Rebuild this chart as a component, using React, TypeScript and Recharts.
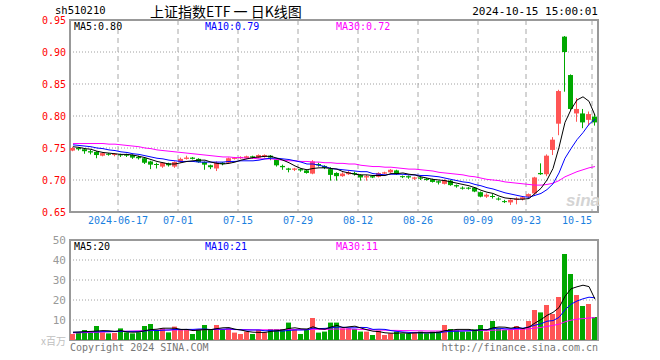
import React from "react";
import {
  Bar,
  CartesianGrid,
  ComposedChart,
  Line,
  ReferenceArea,
  XAxis,
  YAxis,
} from "recharts";

// trading days, 2024-06-04 .. 2024-10-15
const dates = (
  "06-04 06-05 06-06 06-07 06-11 06-12 06-13 06-14 06-17 06-18 06-19 06-20 06-21 06-24 06-25 06-26 06-27 06-28 " +
  "07-01 07-02 07-03 07-04 07-05 07-08 07-09 07-10 07-11 07-12 07-15 07-16 07-17 07-18 07-19 07-22 07-23 07-24 07-25 07-26 07-29 07-30 07-31 " +
  "08-01 08-02 08-05 08-06 08-07 08-08 08-09 08-12 08-13 08-14 08-15 08-16 08-19 08-20 08-21 08-22 08-23 08-26 08-27 08-28 08-29 08-30 " +
  "09-02 09-03 09-04 09-05 09-06 09-09 09-10 09-11 09-12 09-13 09-18 09-19 09-20 09-23 09-24 09-25 09-26 09-27 09-30 " +
  "10-08 10-09 10-10 10-11 10-14 10-15"
).split(" ");

const tickDates = ["06-17", "07-01", "07-15", "07-29", "08-12", "08-26", "09-09", "09-23", "10-15"];

const opens = [
  0.746, 0.75, 0.748, 0.745, 0.744, 0.738, 0.741, 0.739, 0.74, 0.74,
  0.739, 0.736, 0.734, 0.729, 0.725, 0.721, 0.726, 0.721, 0.728, 0.733,
  0.735, 0.733, 0.728, 0.723, 0.718, 0.727, 0.727, 0.733, 0.734, 0.734,
  0.737, 0.735, 0.736, 0.738, 0.732, 0.722, 0.718, 0.716, 0.717, 0.715,
  0.71, 0.725, 0.722, 0.717, 0.711, 0.706, 0.709, 0.711, 0.708, 0.704,
  0.706, 0.705, 0.71, 0.712, 0.715, 0.706, 0.706, 0.702, 0.704, 0.702,
  0.701, 0.698, 0.694, 0.699, 0.692, 0.688, 0.688, 0.688, 0.681, 0.674,
  0.675, 0.671, 0.667, 0.665, 0.669, 0.67, 0.674, 0.679, 0.711, 0.709,
  0.747, 0.788, 0.924, 0.864, 0.804, 0.804, 0.794, 0.799,
];
const highs = [
  0.752, 0.751, 0.749, 0.747, 0.745, 0.743, 0.742, 0.742, 0.741, 0.741,
  0.74, 0.738, 0.735, 0.73, 0.727, 0.728, 0.727, 0.729, 0.735, 0.738,
  0.736, 0.734, 0.729, 0.724, 0.729, 0.728, 0.735, 0.736, 0.737, 0.738,
  0.738, 0.74, 0.74, 0.739, 0.733, 0.724, 0.719, 0.719, 0.718, 0.716,
  0.731, 0.727, 0.723, 0.72, 0.712, 0.712, 0.714, 0.713, 0.709, 0.708,
  0.707, 0.712, 0.713, 0.717, 0.716, 0.707, 0.707, 0.705, 0.705, 0.703,
  0.702, 0.699, 0.701, 0.7, 0.693, 0.69, 0.689, 0.689, 0.682, 0.679,
  0.678, 0.673, 0.669, 0.67, 0.673, 0.674, 0.679, 0.705, 0.726, 0.74,
  0.767, 0.841, 0.925, 0.865, 0.828, 0.811, 0.807, 0.803,
];
const lows = [
  0.745, 0.746, 0.741, 0.74, 0.734, 0.737, 0.738, 0.737, 0.736, 0.736,
  0.733, 0.732, 0.725, 0.717, 0.718, 0.719, 0.721, 0.719, 0.727, 0.732,
  0.732, 0.727, 0.716, 0.717, 0.714, 0.723, 0.726, 0.732, 0.733, 0.733,
  0.733, 0.734, 0.735, 0.731, 0.721, 0.716, 0.712, 0.714, 0.713, 0.71,
  0.709, 0.721, 0.717, 0.699, 0.699, 0.705, 0.708, 0.707, 0.699, 0.699,
  0.703, 0.704, 0.709, 0.711, 0.708, 0.703, 0.702, 0.7, 0.7, 0.699,
  0.696, 0.693, 0.693, 0.691, 0.688, 0.685, 0.685, 0.681, 0.673, 0.672,
  0.671, 0.668, 0.664, 0.661, 0.662, 0.668, 0.672, 0.677, 0.708, 0.706,
  0.739, 0.77, 0.838, 0.809, 0.791, 0.781, 0.785, 0.785,
];
const closes = [
  0.75, 0.748, 0.745, 0.743, 0.739, 0.742, 0.74, 0.741, 0.739, 0.738,
  0.735, 0.734, 0.727, 0.724, 0.724, 0.727, 0.723, 0.728, 0.733, 0.735,
  0.733, 0.728, 0.724, 0.72, 0.727, 0.725, 0.734, 0.735, 0.736, 0.737,
  0.735, 0.739, 0.739, 0.735, 0.723, 0.72, 0.716, 0.718, 0.715, 0.711,
  0.729, 0.723, 0.719, 0.708, 0.706, 0.71, 0.712, 0.709, 0.704, 0.706,
  0.704, 0.711, 0.712, 0.716, 0.709, 0.705, 0.704, 0.704, 0.702, 0.7,
  0.697, 0.696, 0.7, 0.692, 0.69, 0.687, 0.687, 0.682, 0.674, 0.677,
  0.674, 0.67, 0.666, 0.669, 0.671, 0.673, 0.678, 0.704, 0.709, 0.738,
  0.763, 0.839, 0.9, 0.811, 0.811, 0.79, 0.803, 0.79,
];
const ma5 = [
  0.752, 0.751, 0.749, 0.748, 0.745, 0.743, 0.742, 0.741, 0.74, 0.74,
  0.739, 0.737, 0.735, 0.732, 0.729, 0.727, 0.725, 0.725, 0.727, 0.729,
  0.73, 0.731, 0.731, 0.728, 0.726, 0.725, 0.726, 0.728, 0.731, 0.733,
  0.735, 0.736, 0.737, 0.737, 0.734, 0.731, 0.727, 0.722, 0.718, 0.716,
  0.718, 0.719, 0.719, 0.718, 0.717, 0.713, 0.711, 0.709, 0.708, 0.708,
  0.707, 0.707, 0.707, 0.71, 0.71, 0.711, 0.709, 0.708, 0.705, 0.703,
  0.701, 0.7, 0.699, 0.697, 0.695, 0.693, 0.691, 0.688, 0.684, 0.681,
  0.679, 0.675, 0.672, 0.671, 0.67, 0.67, 0.671, 0.679, 0.687, 0.7,
  0.718, 0.751, 0.79, 0.81, 0.825, 0.83, 0.823, 0.801,
];
const ma10 = [
  0.755, 0.754, 0.753, 0.752, 0.75, 0.749, 0.747, 0.746, 0.744, 0.743,
  0.741, 0.74, 0.738, 0.736, 0.734, 0.733, 0.731, 0.73, 0.729, 0.729,
  0.729, 0.728, 0.728, 0.728, 0.728, 0.728, 0.729, 0.729, 0.73, 0.73,
  0.73, 0.731, 0.733, 0.734, 0.734, 0.733, 0.732, 0.73, 0.728, 0.725,
  0.725, 0.723, 0.721, 0.718, 0.717, 0.716, 0.715, 0.714, 0.713, 0.713,
  0.71, 0.709, 0.708, 0.709, 0.709, 0.709, 0.708, 0.708, 0.707, 0.707,
  0.706, 0.705, 0.703, 0.701, 0.699, 0.697, 0.696, 0.693, 0.691, 0.688,
  0.686, 0.683, 0.68, 0.678, 0.676, 0.674, 0.673, 0.676, 0.679, 0.685,
  0.694, 0.711, 0.734, 0.749, 0.763, 0.774, 0.787, 0.795,
];
const ma30 = [
  0.757, 0.757, 0.757, 0.757, 0.757, 0.757, 0.756, 0.756, 0.755, 0.754,
  0.753, 0.752, 0.75, 0.749, 0.747, 0.746, 0.745, 0.744, 0.743, 0.742,
  0.741, 0.74, 0.739, 0.738, 0.737, 0.736, 0.736, 0.735, 0.735, 0.734,
  0.734, 0.733, 0.733, 0.733, 0.732, 0.731, 0.73, 0.73, 0.729, 0.729,
  0.728, 0.728, 0.727, 0.727, 0.726, 0.726, 0.725, 0.725, 0.723, 0.722,
  0.721, 0.721, 0.72, 0.72, 0.719, 0.718, 0.717, 0.717, 0.716, 0.715,
  0.714, 0.712, 0.711, 0.71, 0.709, 0.708, 0.706, 0.705, 0.703, 0.701,
  0.7, 0.699, 0.697, 0.696, 0.695, 0.694, 0.693, 0.692, 0.692, 0.693,
  0.695, 0.699, 0.705, 0.709, 0.713, 0.716, 0.719, 0.721,
];

// volume, millions
const volumes = [
  3.0, 3.8, 5, 3.8, 7, 3.8, 3.3, 3.5, 5.8, 3.8,
  3.3, 3.8, 7, 8, 5, 5.8, 3.8, 6.7, 5, 5,
  3, 5.3, 7.5, 5, 7.5, 5, 5.8, 3.7, 3, 4.2,
  3, 5, 3.8, 5.5, 5.5, 5.5, 8.7, 5.5, 3, 5,
  11, 3.7, 4.2, 8.7, 8.7, 5.8, 5.8, 5.5, 4.2, 4.2,
  2.5, 4.7, 2.5, 3.3, 4.2, 3.3, 3.3, 3.7, 4.2, 3.3,
  4.2, 4.2, 7.5, 5.5, 5, 4.2, 4.2, 5.3, 7.5, 4.2,
  9.5, 5.8, 5, 5, 7, 5.8, 9.5, 15, 13.8, 17.5,
  13, 21.5, 43, 33, 22.5, 17, 18, 11.5,
];
const volMa5 = [
  3.9, 4.0, 4.2, 4.3, 4.5, 4.7, 4.6, 4.3, 4.7, 4.0,
  3.9, 4.0, 4.7, 5.2, 5.4, 5.9, 5.9, 5.9, 5.3, 5.3,
  4.7, 5.0, 5.2, 5.2, 5.7, 6.1, 6.2, 5.4, 5.0, 4.3,
  3.9, 3.8, 3.8, 4.3, 4.6, 5.1, 5.8, 6.1, 5.6, 5.5,
  6.6, 5.6, 5.4, 6.5, 7.3, 6.2, 6.6, 6.9, 6.0, 5.1,
  4.4, 4.2, 3.6, 3.4, 3.4, 3.6, 3.3, 3.6, 3.7, 3.6,
  3.7, 3.9, 4.7, 4.9, 5.3, 5.3, 5.3, 4.8, 5.2, 5.1,
  6.1, 6.5, 6.4, 5.9, 6.5, 5.7, 6.5, 8.5, 10.2, 12.3,
  13.8, 16.2, 21.8, 25.6, 26.6, 27.4, 26.7, 20.4,
];
const volMa10 = [
  3.8, 3.9, 4.0, 4.1, 4.1, 4.2, 4.2, 4.3, 4.3, 4.3,
  4.3, 4.3, 4.5, 4.9, 4.7, 4.9, 5.0, 5.3, 5.2, 5.3,
  5.3, 5.5, 5.5, 5.2, 5.5, 5.4, 5.6, 5.3, 5.1, 5.0,
  5.0, 5.0, 4.6, 4.7, 4.5, 4.5, 4.8, 5.0, 5.0, 5.1,
  5.9, 5.7, 5.8, 6.1, 6.4, 6.4, 6.1, 6.1, 6.3, 6.2,
  5.3, 5.4, 5.3, 4.7, 4.3, 4.0, 3.8, 3.6, 3.6, 3.5,
  3.7, 3.6, 4.1, 4.3, 4.4, 4.5, 4.6, 4.8, 5.1, 5.2,
  5.7, 5.9, 5.6, 5.6, 5.8, 5.9, 6.5, 7.4, 8.1, 9.4,
  9.7, 11.3, 15.1, 17.9, 19.5, 20.6, 21.4, 21.1,
];
const volMa30 = [
  3.5, 3.6, 3.7, 3.8, 3.9, 4.0, 4.1, 4.2, 4.3, 4.4,
  4.5, 4.6, 4.7, 4.8, 4.9, 5.0, 5.0, 5.0, 5.1, 5.1,
  5.1, 5.1, 5.2, 5.2, 5.3, 5.3, 5.3, 5.2, 5.2, 5.2,
  5.1, 5.1, 5.1, 5.1, 5.1, 5.1, 5.2, 5.2, 5.2, 5.2,
  5.3, 5.3, 5.3, 5.4, 5.5, 5.5, 5.5, 5.4, 5.3, 5.2,
  5.1, 5.0, 4.9, 4.8, 4.8, 4.7, 4.7, 4.6, 4.6, 4.5,
  4.5, 4.5, 4.6, 4.6, 4.6, 4.6, 4.7, 4.7, 4.8, 4.8,
  4.9, 5.0, 5.1, 5.2, 5.3, 5.4, 5.6, 5.9, 6.3, 6.8,
  7.3, 7.9, 9.1, 9.9, 10.4, 10.7, 11.0, 11.2,
];

const priceTicks = [0.65, 0.7, 0.75, 0.8, 0.85, 0.9, 0.95];
const volTicks = [10, 20, 30, 40, 50];

const RED = "#ff5555";
const GREEN = "#00a800";
const MONO = '"DejaVu Sans Mono", monospace';

// each day takes one unit on the x axis; marks sit in the middle of it
const rows = dates.map((date, i) => ({
  x: i + 0.5,
  date,
  o: opens[i],
  h: highs[i],
  l: lows[i],
  c: closes[i],
  v: volumes[i],
  ma5: ma5[i],
  ma10: ma10[i],
  ma30: ma30[i],
  vma5: volMa5[i],
  vma10: volMa10[i],
  vma30: volMa30[i],
}));

const tickIdx = tickDates.map((d) => dates.indexOf(d));
const lastTick = tickIdx[tickIdx.length - 1];

function Candle(props: any) {
  const { x, y, width, height, payload } = props;
  if (x == null || !payload) return null;
  const { o, h, l, c } = payload;
  const color = c >= o ? RED : GREEN;
  const k = h > l ? height / (h - l) : 0;
  const top = y + (h - Math.max(o, c)) * k;
  const bot = y + (h - Math.min(o, c)) * k;
  const x0 = Math.floor(x);
  const w = Math.round(width);
  return (
    <g>
      <rect x={x0 + Math.floor(w / 2)} y={y} width={1} height={Math.max(height, 1)} fill={color} />
      <rect x={x0} y={top} width={w} height={Math.max(bot - top, 1)} fill={color} />
    </g>
  );
}

function VolBar(props: any) {
  const { x, y, width, height, payload } = props;
  if (x == null || !payload) return null;
  return (
    <rect
      x={Math.floor(x)}
      y={y}
      width={Math.round(width)}
      height={height}
      fill={payload.c >= payload.o ? RED : GREEN}
    />
  );
}

function DateTick(props: any) {
  const { x, y, payload } = props;
  const i = payload.value;
  const label = i === tickIdx[0] ? `2024-${dates[i]}` : dates[i];
  return (
    <text
      x={x}
      y={y}
      dy="0.71em"
      textAnchor={i === lastTick ? "end" : "middle"}
      fill="#1a80e0"
      fontSize={10}
      fontFamily={MONO}
    >
      {label}
    </text>
  );
}

export default function App() {
  return (
    <div
      style={{
        position: "absolute",
        left: 0,
        top: 0,
        width: 660,
        height: 360,
        background: "#fff",
      }}
    >
      <div style={{ position: "absolute", left: 0, top: 0 }}>
        <ComposedChart
          width={660}
          height={230}
          data={rows}
          margin={{ top: 20, right: 62, bottom: 0, left: 0 }}
        >
          <XAxis
            type="number"
            dataKey="x"
            domain={[0, 88]}
            ticks={tickIdx}
            interval={0}
            height={18}
            tickSize={0}
            tickMargin={5}
            axisLine={false}
            tick={<DateTick />}
          />
          <YAxis
            type="number"
            domain={[0.65, 0.95]}
            ticks={priceTicks}
            interval={0}
            width={70}
            tickSize={0}
            tickMargin={4}
            axisLine={false}
            allowDataOverflow
            tickFormatter={(v: number) => v.toFixed(2)}
            tick={{ fill: "#ff0000", fontSize: 10, fontFamily: MONO }}
          />
          <CartesianGrid vertical={false} stroke="#a0a0a0" strokeDasharray="1 2" />
          <CartesianGrid horizontal={false} stroke="#a8a8a8" strokeDasharray="5 4" />
          <Bar
            dataKey={(d: any) => [d.l, d.h]}
            barSize={5}
            shape={<Candle />}
            isAnimationActive={false}
          />
          <Line dataKey="ma30" stroke="#ff00ff" strokeWidth={1} dot={false} isAnimationActive={false} />
          <Line dataKey="ma10" stroke="#0000ff" strokeWidth={1} dot={false} isAnimationActive={false} />
          <Line dataKey="ma5" stroke="#000000" strokeWidth={1} dot={false} isAnimationActive={false} />
          <ReferenceArea x1={0} x2={88} y1={0.65} y2={0.95} fill="none" stroke="#999" strokeWidth={2} />
        </ComposedChart>
      </div>

      <div style={{ position: "absolute", left: 0, top: 230 }}>
        <ComposedChart
          width={660}
          height={130}
          data={rows}
          margin={{ top: 10, right: 62, bottom: 20, left: 0 }}
        >
          <XAxis
            type="number"
            dataKey="x"
            domain={[0, 88]}
            ticks={tickIdx}
            interval={0}
            height={0}
            tick={false}
            tickLine={false}
            axisLine={false}
          />
          <YAxis
            type="number"
            domain={[0, 50]}
            ticks={volTicks}
            interval={0}
            width={70}
            tickSize={0}
            tickMargin={4}
            axisLine={false}
            tick={{ fill: "#999", fontSize: 11, fontFamily: MONO }}
          />
          <CartesianGrid vertical={false} stroke="#a0a0a0" strokeDasharray="1 2" />
          <CartesianGrid horizontal={false} stroke="#a8a8a8" strokeDasharray="5 4" />
          <Bar dataKey="v" barSize={5} shape={<VolBar />} isAnimationActive={false} />
          <Line dataKey="vma30" stroke="#ff00ff" strokeWidth={1} dot={false} isAnimationActive={false} />
          <Line dataKey="vma10" stroke="#0000ff" strokeWidth={1} dot={false} isAnimationActive={false} />
          <Line dataKey="vma5" stroke="#000000" strokeWidth={1} dot={false} isAnimationActive={false} />
          <ReferenceArea x1={0} x2={88} y1={0} y2={50} fill="none" stroke="#999" strokeWidth={2} />
        </ComposedChart>
      </div>

      <svg
        width={660}
        height={360}
        style={{ position: "absolute", left: 0, top: 0, pointerEvents: "none" }}
      >
        <text x={55} y={14} fontSize={10.5} fontFamily={MONO} fill="#000">sh510210</text>
        <text x={150} y={17} fontSize={14} fontFamily='"Noto Sans CJK SC", sans-serif' fill="#000">
          上证指数ETF 一 日K线图
        </text>
        <text x={598} y={15} textAnchor="end" fontSize={11} fontFamily={MONO} fill="#000">
          2024-10-15 15:00:01
        </text>

        <text x={74} y={30} fontSize={10} fontFamily={MONO} fill="#000">MA5:0.80</text>
        <text x={205} y={30} fontSize={10} fontFamily={MONO} fill="#0000ff">MA10:0.79</text>
        <text x={336} y={30} fontSize={10} fontFamily={MONO} fill="#ff00ff">MA30:0.72</text>

        <text x={74} y={250} fontSize={10} fontFamily={MONO} fill="#000">MA5:20</text>
        <text x={205} y={250} fontSize={10} fontFamily={MONO} fill="#0000ff">MA10:21</text>
        <text x={336} y={250} fontSize={10} fontFamily={MONO} fill="#ff00ff">MA30:11</text>

        <text x={566} y={206} fontSize={17} fontStyle="italic" fontWeight="bold" fontFamily="Verdana, sans-serif" fill="#d4d4d4">
          sina
        </text>

        <text x={66} y={345} textAnchor="end" fontSize={10} fontFamily='"Noto Sans CJK SC", sans-serif' fill="#c0c0c0">
          x百万
        </text>
        <text x={70} y={351} fontSize={10} fontFamily={MONO} fill="#777">
          Copyright 2024 SINA.COM
        </text>
        <text x={598} y={351} textAnchor="end" fontSize={10} fontFamily={MONO} fill="#777">
          http://finance.sina.com.cn
        </text>
      </svg>
    </div>
  );
}
